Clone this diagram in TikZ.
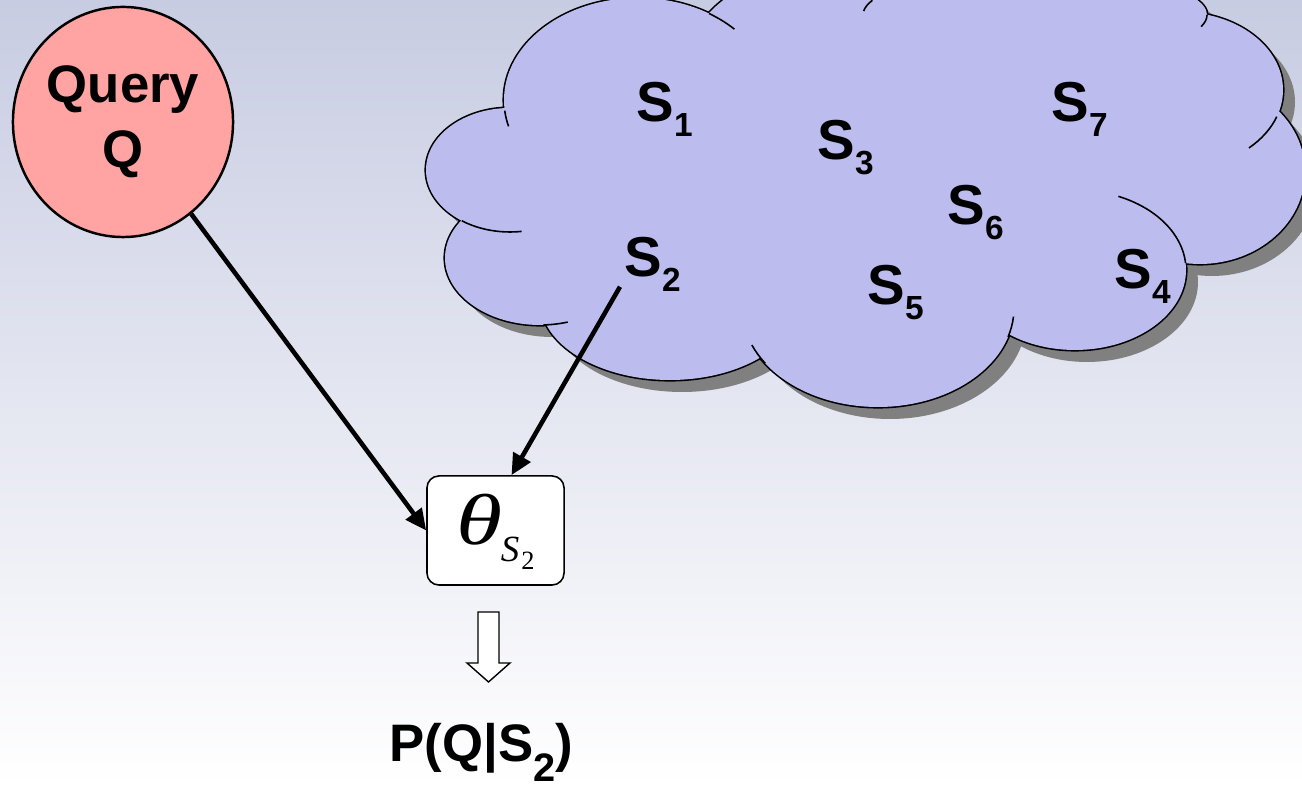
\documentclass[tikz,border=0pt]{standalone}
\usepackage{fontspec}
\setmainfont{Liberation Sans}
\newfontfamily\thetafont{Liberation Serif}
\usetikzlibrary{arrows.meta, calc, shapes.geometric}

\definecolor{bgtop}{RGB}{200,204,226}
\definecolor{cloudfill}{RGB}{188,188,238}
\definecolor{cloudshade}{RGB}{128,128,128}
\definecolor{queryfill}{RGB}{255,163,163}

% S with a lowered index
\newcommand{\sname}[1]{S\raisebox{-4pt}{\fontsize{9.5}{10}\selectfont #1}}

% cloud lobes: centre x / centre y / x radius / y radius (1 unit = 1 px)
\def\lobes{510/170/84/62, 638/100/134/102, 810/110/140/140, 1035/15/172/45,
  1180/90/103/78, 1200/172/105/92, 1075/270/111/80, 878/308/136/99,
  670/300/130/80, 540/258/95/67}

% all lobes plus a polygon filling the middle
\newcommand{\cloudblobs}[1]{%
  \foreach \cx/\cy/\rx/\ry in \lobes
    \fill[#1] (\cx,\cy) ellipse [x radius=\rx, y radius=\ry];
  \fill[#1] (510,170) -- (638,100) -- (810,110) -- (900,40) -- (1035,15) -- (1180,90)
    -- (1200,172) -- (1075,270) -- (878,308) -- (670,300) -- (540,258) -- cycle;
}

\begin{document}
\begin{tikzpicture}[x=0.01cm, y=-0.01cm,
    setlabel/.style={anchor=base west, inner sep=0pt, font=\fontsize{16}{19}\selectfont\bfseries},
    link/.style={-{Triangle[length=6pt, width=5.5pt]}, line width=1.3pt},
    tail/.style={line width=0.45pt},
]
\useasboundingbox (0,0) rectangle (1302,786);
\clip (0,0) rectangle (1302,786);

% background
\shade[top color=bgtop, bottom color=white] (0,0) rectangle (1302,786);

% cloud: shadow, doubled outline, fill, then the inner arc ends
\begin{scope}[shift={(12,12)}]
  \cloudblobs{cloudshade}
\end{scope}
\foreach \cx/\cy/\rx/\ry in \lobes
  \draw[line width=0.9pt] (\cx,\cy) ellipse [x radius=\rx, y radius=\ry];
\cloudblobs{cloudfill}
\foreach \cx/\cy/\rx/\ry/\a/\b in {510/170/84/62/125/82, 638/100/134/102/174/165,
    638/100/134/102/-58/-44, 1035/15/172/45/199/185, 1035/15/172/45/0/15,
    1180/90/103/78/20/48, 1075/270/111/80/-5/-67, 878/308/136/99/17/5,
    878/308/136/99/146/158, 540/258/95/67/88/73}
  \draw[tail] ({\cx+\rx*cos(\a)},{\cy+\ry*sin(\a)})
    arc[start angle=\a, end angle=\b, x radius=\rx, y radius=\ry];

% sets in the cloud
\node[setlabel] (s1) at (636,122) {\sname{1}};
\node[setlabel] (s3) at (817,160) {\sname{3}};
\node[setlabel] (s7) at (1051,122) {\sname{7}};
\node[setlabel] (s6) at (947,225) {\sname{6}};
\node[setlabel] (s2) at (624,277) {\sname{2}};
\node[setlabel] (s5) at (867,305) {\sname{5}};
\node[setlabel] (s4) at (1114,289) {\sname{4}};

% query
\node[ellipse, draw, line width=0.7pt, fill=queryfill, inner sep=0pt, minimum width=2.2cm,
  minimum height=2.3cm, align=center, font=\fontsize{15}{18.5}\selectfont\bfseries]
  (query) at (123,122) {Query\\Q};

% model of S2
\node[draw, fill=white, rounded corners=1.2mm, line width=0.45pt, minimum width=1.37cm,
  minimum height=1.09cm, text height=14pt, text depth=5.8pt] (theta) at (495.5,530.5)
  {{\thetafont\itshape\fontsize{20.5}{22}\selectfont\scalebox{1.3}[1]{θ}}\kern-0.5pt
   \raisebox{-4.8pt}{\thetafont\itshape\fontsize{10.5}{11}\selectfont S}\kern0.6pt
   \raisebox{-7.1pt}{\thetafont\fontsize{7.5}{8}\selectfont 2}};

\draw[link] (query) -- (theta.west);
\draw[link] ($(s2.south west)+(-4,-5)$) -- ($(theta.north)+(16,0)$);

% hollow down arrow
\draw[line width=0.4pt, fill=white] (478,612) -- (499,612) -- (499,663) -- (510,663)
  -- (488.5,682) -- (467,663) -- (478,663) -- cycle;

\node[anchor=base west, inner sep=0pt, font=\fontsize{15}{18}\selectfont\bfseries]
  (prob) at (389,762) {P(Q|S\raisebox{-5.5pt}{\fontsize{11.3}{12}\selectfont 2})};

\end{tikzpicture}
\end{document}
